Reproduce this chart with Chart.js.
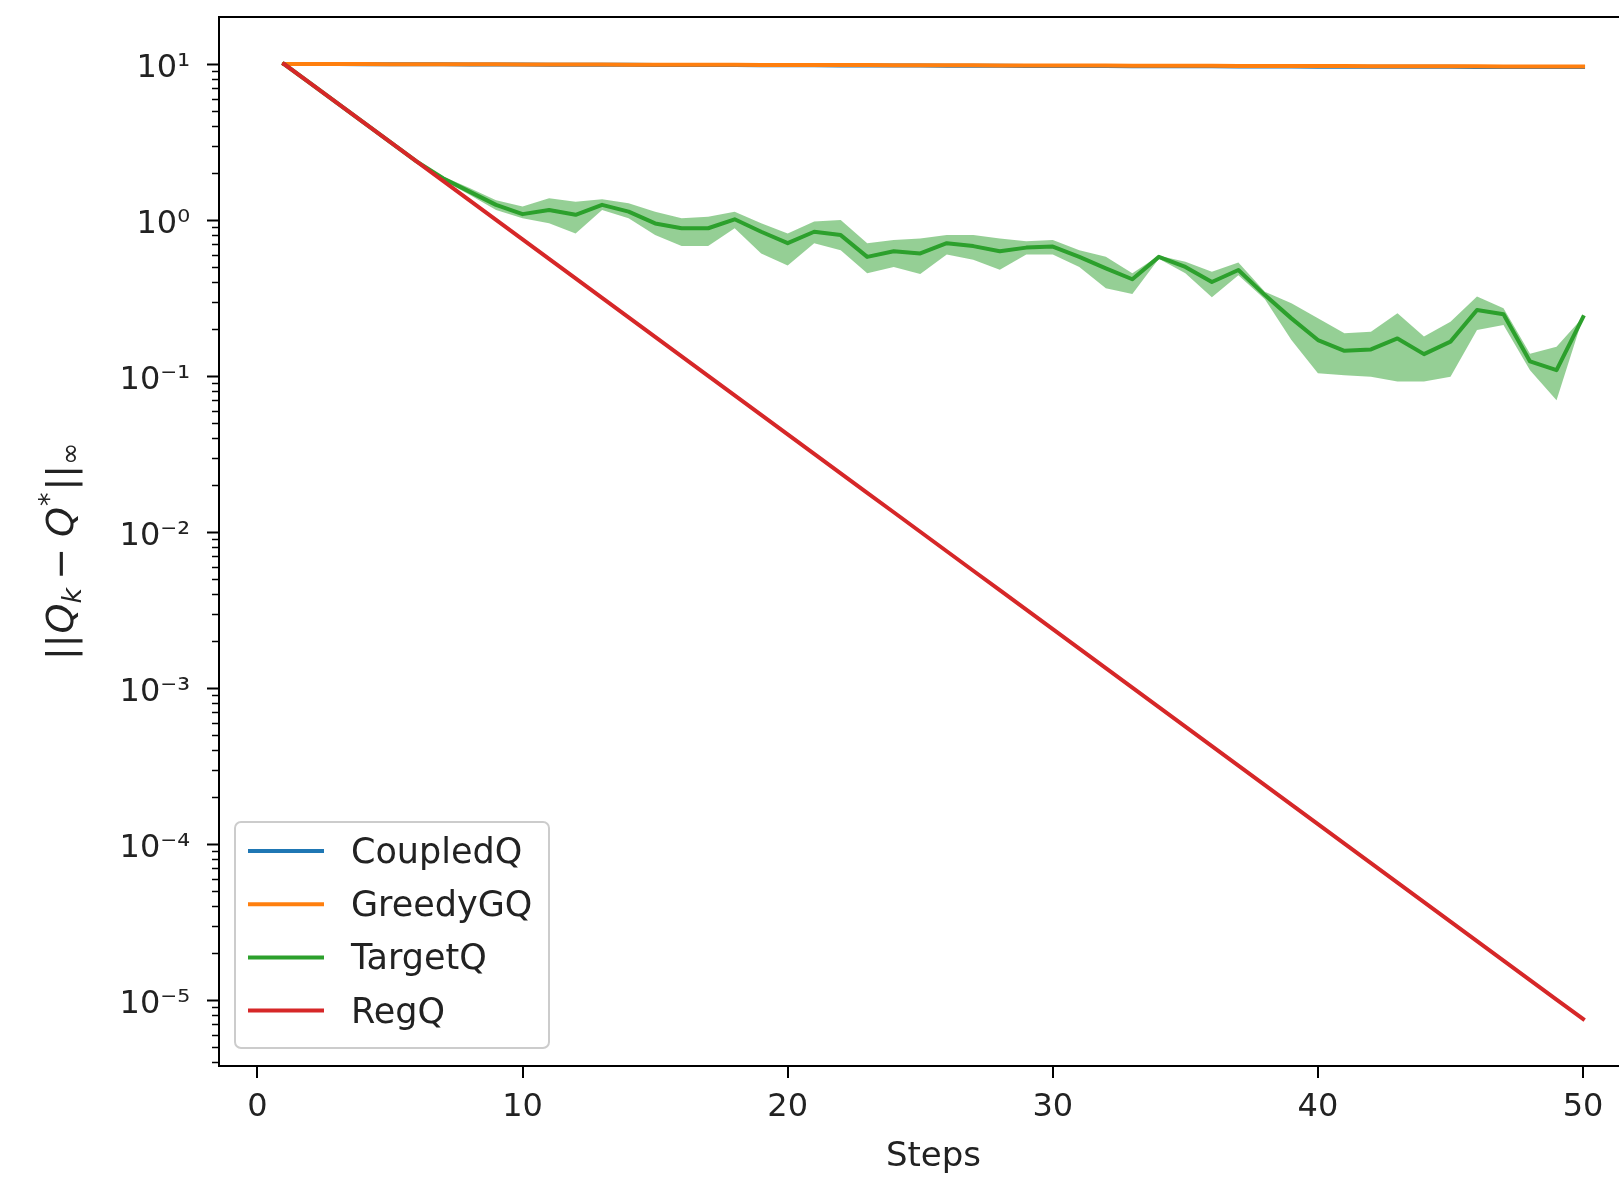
<!DOCTYPE html>
<html>
<head>
<meta charset="utf-8">
<script src="https://cdn.jsdelivr.net/npm/chart.js@4.4.1/dist/chart.umd.min.js"></script>
<style>
  html, body { margin: 0; padding: 0; background: #fff; overflow: hidden; }
  #wrap { width: 1700px; height: 1177px; }
</style>
</head>
<body>
<div id="wrap"><canvas id="chart" width="1700" height="1177"></canvas></div>
<script>
// ---- data ----
const steps = [1,2,3,4,5,6,7,8,9,10,11,12,13,14,15,16,17,18,19,20,21,22,23,24,25,
               26,27,28,29,30,31,32,33,34,35,36,37,38,39,40,41,42,43,44,45,46,47,48,49,50];

const seriesNames = ['CoupledQ', 'GreedyGQ', 'TargetQ', 'RegQ'];

const coupledQ = [10.00, 9.99, 9.98, 9.97, 9.96, 9.95, 9.94, 9.93, 9.92, 9.91,
                  9.90, 9.89, 9.88, 9.87, 9.86, 9.85, 9.84, 9.83, 9.82, 9.81,
                  9.80, 9.79, 9.78, 9.77, 9.76, 9.75, 9.74, 9.73, 9.72, 9.71,
                  9.70, 9.69, 9.68, 9.67, 9.66, 9.65, 9.64, 9.63, 9.62, 9.61,
                  9.60, 9.60, 9.59, 9.59, 9.58, 9.57, 9.57, 9.56, 9.56, 9.55];

const greedyGQ = [10.00, 9.99, 9.98, 9.98, 9.97, 9.96, 9.95, 9.95, 9.94, 9.93,
                  9.92, 9.91, 9.91, 9.90, 9.89, 9.88, 9.88, 9.87, 9.86, 9.85,
                  9.84, 9.84, 9.83, 9.82, 9.81, 9.81, 9.80, 9.79, 9.78, 9.77,
                  9.77, 9.76, 9.75, 9.74, 9.74, 9.73, 9.72, 9.71, 9.70, 9.70,
                  9.69, 9.68, 9.67, 9.67, 9.66, 9.65, 9.64, 9.63, 9.63, 9.62];

const targetQ = [10, 7.5, 5.625, 4.219, 3.164, 2.373, 1.85, 1.52, 1.25, 1.09,
                 1.16, 1.08, 1.25, 1.13, 0.95, 0.885, 0.885, 1.01, 0.84, 0.71,
                 0.84, 0.80, 0.58, 0.63, 0.61, 0.71, 0.68, 0.63, 0.665, 0.675,
                 0.58, 0.49, 0.417, 0.58, 0.50, 0.40, 0.478, 0.33, 0.234, 0.170,
                 0.145, 0.148, 0.174, 0.138, 0.166, 0.265, 0.249, 0.124, 0.109, 0.238];

const targetQLow = [10, 7.5, 5.625, 4.219, 3.164, 2.373, 1.80, 1.45, 1.16, 1.025,
                    0.952, 0.82, 1.16, 1.025, 0.80, 0.68, 0.68, 0.885, 0.61, 0.51,
                    0.71, 0.64, 0.455, 0.50, 0.45, 0.60, 0.555, 0.48, 0.60, 0.60,
                    0.50, 0.365, 0.335, 0.565, 0.455, 0.32, 0.443, 0.31, 0.170, 0.104,
                    0.101, 0.099, 0.092, 0.092, 0.099, 0.197, 0.212, 0.109, 0.070, 0.238];

const targetQHigh = [10, 7.5, 5.625, 4.219, 3.164, 2.373, 1.90, 1.60, 1.34, 1.22,
                     1.38, 1.31, 1.36, 1.28, 1.13, 1.025, 1.05, 1.13, 0.952, 0.82,
                     0.976, 1.00, 0.71, 0.745, 0.76, 0.80, 0.80, 0.76, 0.73, 0.745,
                     0.64, 0.58, 0.455, 0.59, 0.54, 0.466, 0.533, 0.347, 0.292, 0.234,
                     0.188, 0.192, 0.252, 0.179, 0.223, 0.323, 0.272, 0.139, 0.154, 0.238];

const regQ = [10, 7.5, 5.625, 4.21875, 3.1641, 2.3730, 1.7798, 1.3348, 1.0011, 0.75085,
              0.56314, 0.42235, 0.31676, 0.23757, 0.17818, 0.13363, 0.10023, 0.075169, 0.056377, 0.042283,
              0.031712, 0.023784, 0.017838, 0.013379, 0.010034, 0.0075254, 0.0056440, 0.0042330, 0.0031748, 0.0023811,
              0.0017858, 0.0013394, 0.0010045, 0.00075339, 0.00056504, 0.00042378, 0.00031784, 0.00023838, 0.00017878, 0.00013409,
              0.00010057, 7.5424e-5, 5.6568e-5, 4.2426e-5, 3.1819e-5, 2.3865e-5, 1.7898e-5, 1.3424e-5, 1.0068e-5, 7.5508e-6];

const xTickValues = [0, 10, 20, 30, 40, 50];
const yMajorValues = [1e-5, 1e-4, 1e-3, 1e-2, 1e-1, 1, 10];
const yTickLabels = ['10⁻⁵', '10⁻⁴', '10⁻³', '10⁻²', '10⁻¹', '10⁰', '10¹'];

// ---- look ----
const COLORS = { CoupledQ: '#1f77b4', GreedyGQ: '#ff7f0e', TargetQ: '#2ca02c', RegQ: '#d62728' };
const BAND = 'rgba(44,160,44,0.5)';
const FAM = '"DejaVu Sans", sans-serif';
const X_MIN = -1.45, X_MAX = 52.45;
const Y_MIN = Math.pow(10, -5.423), Y_MAX = Math.pow(10, 1.301);
const LW = 4;

const pts = ys => steps.map((s, i) => ({ x: s, y: ys[i] }));

function line(label, ys, order) {
  return {
    label, data: pts(ys), order,
    borderColor: COLORS[label], backgroundColor: COLORS[label],
    borderWidth: LW, pointRadius: 0, tension: 0, fill: false,
    borderJoinStyle: 'round', borderCapStyle: 'square'
  };
}

const datasets = [
  line('CoupledQ', coupledQ, 5),
  line('GreedyGQ', greedyGQ, 4),
  { label: '_bandHigh', data: pts(targetQHigh), order: 3, borderWidth: 0, borderColor: 'rgba(0,0,0,0)',
    pointRadius: 0, tension: 0, fill: '+1', backgroundColor: BAND },
  { label: '_bandLow', data: pts(targetQLow), order: 3, borderWidth: 0, borderColor: 'rgba(0,0,0,0)',
    pointRadius: 0, tension: 0, fill: false },
  line('TargetQ', targetQ, 2),
  line('RegQ', regQ, 1),
];

const isMajor = v => yMajorValues.some(m => Math.abs(Math.log10(m) - Math.log10(v)) < 1e-6);

// axes frame, tick marks, legend and axis titles
const decorations = {
  id: 'decorations',
  afterDraw(chart) {
    const { ctx, chartArea: a, scales: { x, y } } = chart;
    ctx.save();
    ctx.strokeStyle = '#000';

    // tick marks
    y.ticks.forEach(t => {
      const py = Math.round(y.getPixelForValue(t.value)) + 0.5;
      const major = isMajor(t.value);
      ctx.lineWidth = major ? 2 : 1.5;
      ctx.beginPath();
      ctx.moveTo(a.left, py);
      ctx.lineTo(a.left - (major ? 12 : 7), py);
      ctx.stroke();
    });
    ctx.lineWidth = 2;
    x.ticks.forEach(t => {
      const px = Math.round(x.getPixelForValue(t.value));
      ctx.beginPath();
      ctx.moveTo(px, a.bottom);
      ctx.lineTo(px, a.bottom + 12);
      ctx.stroke();
    });

    // spines
    ctx.lineWidth = 2;
    ctx.strokeRect(a.left, a.top, a.right - a.left, a.bottom - a.top);

    // legend
    const lx = 235, ly = 822, lw = 314, lh = 226;
    ctx.beginPath();
    ctx.roundRect(lx, ly, lw, lh, 6);
    ctx.fillStyle = 'rgba(255,255,255,0.8)';
    ctx.fill();
    ctx.strokeStyle = '#cccccc';
    ctx.lineWidth = 2;
    ctx.stroke();
    ctx.font = `35px ${FAM}`;
    ctx.textBaseline = 'alphabetic';
    ctx.textAlign = 'left';
    seriesNames.forEach((name, i) => {
      const ry = 851 + i * 53.2;
      ctx.strokeStyle = COLORS[name];
      ctx.lineWidth = LW;
      ctx.beginPath();
      ctx.moveTo(248, ry);
      ctx.lineTo(324, ry);
      ctx.stroke();
      ctx.fillStyle = '#222';
      ctx.fillText(name, 351, ry + 12);
    });

    // x title
    ctx.fillStyle = '#222';
    ctx.font = `34px ${FAM}`;
    ctx.textAlign = 'center';
    ctx.fillText('Steps', (a.left + a.right) / 2, 1166);

    // y title: ||Q_k − Q*||_∞
    ctx.translate(73, 660);
    ctx.rotate(-Math.PI / 2);
    ctx.textAlign = 'left';
    const big = 38, small = 27;
    const parts = [
      { t: '||', f: `${big}px ${FAM}`, dy: 0, gap: 0 },
      { t: 'Q', f: `italic ${big}px ${FAM}`, dy: 0, gap: 1 },
      { t: 'k', f: `italic ${small}px ${FAM}`, dy: 8, gap: 0 },
      { t: '−', f: `${big}px ${FAM}`, dy: 0, gap: 8 },
      { t: 'Q', f: `italic ${big}px ${FAM}`, dy: 0, gap: 11 },
      { t: '*', f: `${small}px ${FAM}`, dy: -15, gap: 1 },
      { t: '||', f: `${big}px ${FAM}`, dy: 0, gap: 2 },
      { t: '∞', f: `${small}px ${FAM}`, dy: 6, gap: 0 },
    ];
    let cx = 0;
    parts.forEach(p => {
      ctx.font = p.f;
      cx += p.gap;
      ctx.fillText(p.t, cx, p.dy);
      cx += ctx.measureText(p.t).width;
    });
    ctx.restore();
  }
};

new Chart(document.getElementById('chart'), {
  type: 'line',
  data: { datasets },
  options: {
    responsive: false,
    animation: false,
    devicePixelRatio: 1,
    layout: { padding: { top: 17, right: 52, bottom: 0, left: 0 } },
    plugins: { legend: { display: false }, tooltip: { enabled: false } },
    scales: {
      x: {
        type: 'linear', min: X_MIN, max: X_MAX,
        afterBuildTicks: s => { s.ticks = xTickValues.map(v => ({ value: v })); },
        afterFit: s => { s.height = 111; s.paddingLeft = 0; s.paddingRight = 0; },
        grid: { drawOnChartArea: false, tickLength: 12, tickColor: 'rgba(0,0,0,0)' },
        border: { display: false },
        ticks: { autoSkip: false, maxRotation: 0, padding: 10, color: '#222',
                 font: { family: FAM, size: 32 }, callback: v => String(v) }
      },
      y: {
        type: 'logarithmic', min: Y_MIN, max: Y_MAX,
        afterBuildTicks: s => {
          const t = [];
          for (let e = -6; e <= 1; e++) {
            for (let m = 1; m <= 9; m++) {
              const v = m * Math.pow(10, e);
              if (v >= Y_MIN && v <= Y_MAX) t.push({ value: v });
            }
          }
          s.ticks = t;
        },
        afterFit: s => { s.width = 219; s.paddingTop = 0; s.paddingBottom = 0; },
        grid: { drawOnChartArea: false, tickLength: 12, tickColor: 'rgba(0,0,0,0)' },
        border: { display: false },
        ticks: {
          autoSkip: false, padding: 17, labelOffset: 5, color: '#222',
          font: { family: FAM, size: 32 },
          callback: v => {
            const i = yMajorValues.findIndex(m => Math.abs(Math.log10(m) - Math.log10(v)) < 1e-6);
            return i >= 0 ? yTickLabels[i] : '';
          }
        }
      }
    }
  },
  plugins: [decorations]
});
</script>
</body>
</html>
